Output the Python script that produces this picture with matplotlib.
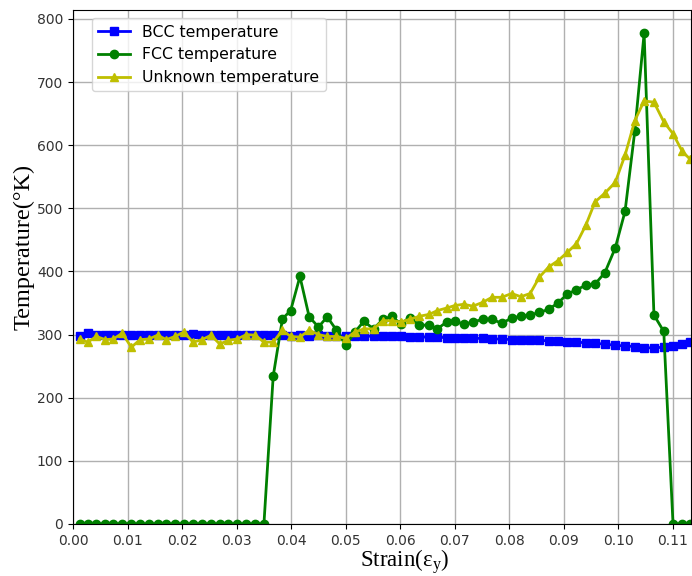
import matplotlib
matplotlib.use('Agg')
from matplotlib import pyplot

# strain values (the spacing grows slowly along the run)
strain = [0.0012, 0.0027, 0.0043, 0.0059, 0.0074, 0.0090, 0.0107, 0.0123, 0.0139, 0.0155,
          0.0171, 0.0187, 0.0203, 0.0220, 0.0237, 0.0253, 0.0269, 0.0285, 0.0301, 0.0318,
          0.0334, 0.0350,
          0.0367, 0.0384, 0.0399, 0.0416, 0.0433, 0.0450, 0.0466, 0.0483, 0.0500, 0.0517,
          0.0533, 0.0551, 0.0568, 0.0584, 0.0601, 0.0617, 0.0635, 0.0653, 0.0668, 0.0685,
          0.0700, 0.0716,
          0.0733, 0.0751, 0.0768, 0.0786, 0.0804, 0.0821, 0.0838, 0.0855, 0.0872, 0.0889,
          0.0906, 0.0923, 0.0940, 0.0957, 0.0975, 0.0994, 0.1012, 0.1030, 0.1047, 0.1065,
          0.1083, 0.1100, 0.1117, 0.1131]

bcc_temp = [298, 302, 300, 299, 300, 299, 300, 299, 300, 299, 300, 299, 300, 301, 300, 299,
            300, 299, 300, 299, 300, 299,
            299, 299, 298, 299, 298, 299, 298, 298, 298, 298, 298, 297, 297, 297, 297, 296,
            296, 296, 296, 295, 295, 295,
            294, 294, 293, 293, 292, 292, 291, 291, 290, 290, 289, 288, 287, 286, 285, 283,
            282, 281, 279, 279, 280, 282, 285, 288]

fcc_temp = [0] * 22 + \
           [234, 325, 338, 392, 328, 312, 328, 307, 283, 304, 321, 309, 324, 329, 317, 327,
            315, 315, 309, 320, 322, 316,
            320, 324, 324, 318, 326, 329, 331, 335, 340, 350, 364, 371, 378, 380, 398, 437,
            495, 623, 777, 331, 305, 0, 0, 0]

unknown_temp = [293, 288, 297, 292, 293, 302, 280, 292, 293, 299, 292, 297, 304, 288, 292, 299,
                285, 291, 293, 300, 299, 288,
                288, 307, 297, 296, 307, 300, 297, 297, 294, 304, 309, 309, 322, 322, 320, 324,
                329, 332, 338, 342, 346, 348,
                345, 351, 359, 359, 365, 360, 365, 391, 407, 417, 430, 444, 473, 510, 524, 541,
                584, 639, 670, 668, 637, 618, 590, 578]

x_ticks = [0.00, 0.01, 0.02, 0.03, 0.04, 0.05, 0.06, 0.07, 0.08, 0.09, 0.10, 0.11]
y_ticks = [0, 100, 200, 300, 400, 500, 600, 700, 800]

fig = pyplot.figure(figsize=(6.92, 5.76), dpi=100)
ax = fig.add_axes([0.1055, 0.0903, 0.8931, 0.8923])

ax.plot(strain, bcc_temp, 'b-s', label='BCC temperature', markersize=6, linewidth=2)
ax.plot(strain, fcc_temp, 'g-o', label='FCC temperature', markersize=6, linewidth=2)
ax.plot(strain, unknown_temp, 'y-^', label='Unknown temperature', markersize=6, linewidth=2)

ax.set_xlim(0, 0.1133)
ax.set_ylim(0, 814)
ax.set_xticks(x_ticks)
ax.set_xticklabels(['{:.2f}'.format(t) for t in x_ticks])
ax.set_yticks(y_ticks)
ax.tick_params(labelsize=10, labelcolor='#333333')
ax.grid(True, color='#b0b0b0', linewidth=1)
ax.set_axisbelow(True)

ax.set_xlabel('Strain(ε$_\\mathregular{y}$)', family='Liberation Serif', fontsize=16.5)
ax.set_ylabel('Temperature(°K)', family='Liberation Serif', fontsize=17.5)
ax.xaxis.set_label_coords(0.536, -0.046)
ax.yaxis.set_label_coords(-0.062, 0.54)

ax.legend(loc='upper left', bbox_to_anchor=(0.031, 0.984), borderaxespad=0, fontsize=11.3)

pyplot.savefig('out.png', dpi=100)
